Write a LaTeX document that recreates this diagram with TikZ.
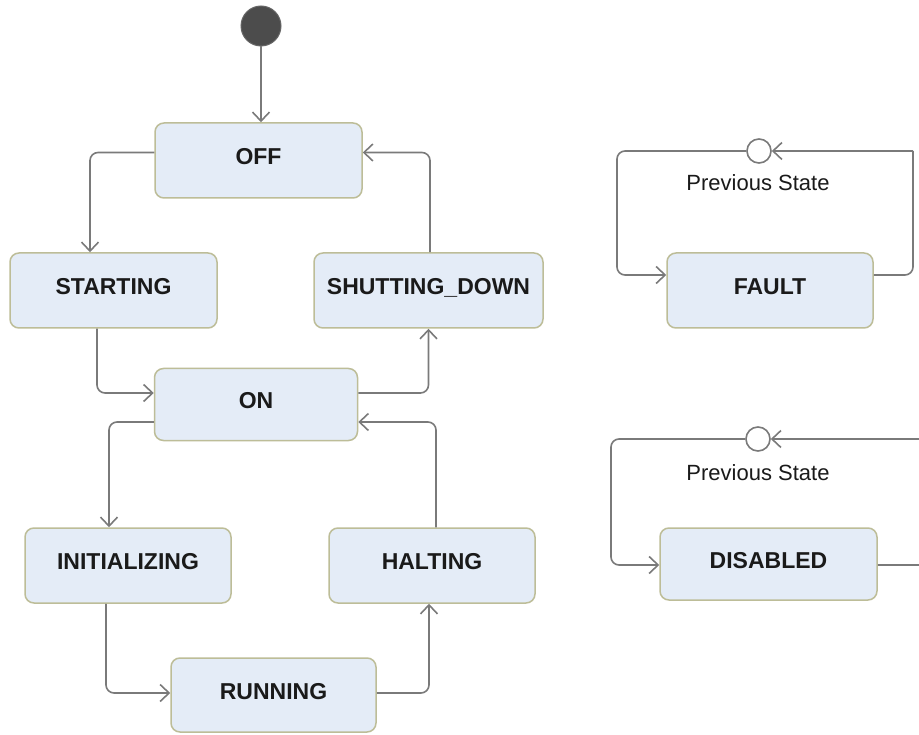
\documentclass[tikz,border=0pt]{standalone}
\usepackage{fontspec}
\setmainfont{Liberation Sans}
\usetikzlibrary{arrows.meta}
\definecolor{boxfill}{HTML}{E4ECF7}
\definecolor{boxline}{HTML}{BDBD98}
\definecolor{conn}{HTML}{7A7A7A}
\definecolor{txt}{HTML}{1A1A1A}
\tikzset{
  state/.style={draw=boxline, fill=boxfill, line width=1.5pt, rounded corners=9pt,
    minimum height=75pt, inner sep=0pt,
    text height=16pt, text depth=8pt, font=\fontsize{23}{25}\selectfont\bfseries, text=txt},
  arr/.style={draw=conn, line width=1.6pt, rounded corners=8pt,
    -{Straight Barb[length=9pt,width=17pt,line width=1.6pt]}},
  ln/.style={draw=conn, line width=1.6pt, rounded corners=8pt},
  choice/.style={circle, draw=conn, fill=white, line width=1.6pt, minimum size=24pt, inner sep=0pt},
  lbl/.style={font=\fontsize{22}{24}\selectfont, text=txt}
}
\begin{document}
\begin{tikzpicture}[x=1pt,y=-1pt]
\useasboundingbox (0,0) rectangle (919,735);
\clip (0,0) rectangle (919,735);
\fill[white] (0,0) rectangle (919,735);
% states
\node[state, minimum width=207pt] (OFF) at (258.5,160.5) {OFF};
\node[state, minimum width=207pt] (ST) at (113.5,290.5) {STARTING};
\node[state, minimum width=229pt] (SD) at (428.5,290.5) {SHUTTING\_DOWN};
\node[state, minimum width=203pt, minimum height=72pt] (ON) at (256,404.5) {ON};
\node[state, minimum width=206pt] (INI) at (128,565.5) {INITIALIZING};
\node[state, minimum width=206pt] (HLT) at (432,565.5) {HALTING};
\node[state, minimum width=205pt, minimum height=74pt] (RUN) at (273.5,695) {RUNNING};
\node[state, minimum width=206pt] (FLT) at (770,290.5) {FAULT};
\node[state, minimum width=217pt, minimum height=72pt] (DIS) at (768.5,564) {DISABLED};
% initial
\node[circle, fill=black!70, draw=black!60, line width=1pt, minimum size=40pt, inner sep=0pt] (init) at (261,26) {};
\draw[arr] (init.south) -- (init.south |- OFF.north);
% main flow
\draw[arr] ([yshift=8pt]OFF.west) -| ([xshift=-23.5pt]ST.north);
\draw[arr] ([xshift=1.5pt]SD.north) |- ([yshift=8pt]OFF.east);
\draw[arr] ([xshift=-16.5pt]ST.south) |- ([yshift=11.5pt]ON.west);
\draw[arr] ([yshift=11.5pt]ON.east) -| (SD.south);
\draw[arr] ([yshift=-17.5pt]ON.west) -| ([xshift=-19pt]INI.north);
\draw[arr] ([xshift=4pt]HLT.north) |- ([yshift=-17.5pt]ON.east);
\draw[arr] ([xshift=-22pt]INI.south) |- ([yshift=2pt]RUN.west);
\draw[arr] ([yshift=2pt]RUN.east) -| ([xshift=-3pt]HLT.south);
% fault loop
\node[choice] (h1) at (759,151) {};
\node[lbl] (l1) at (758,183) {Previous State};
\coordinate (f1) at (913,151);
\coordinate (f2) at (617,151);
\draw[ln] ([yshift=15.5pt]FLT.east) -| (f1);
\draw[arr] (f1) -- (h1.east);
\draw[arr] (h1.west) -- (f2) |- ([yshift=15.5pt]FLT.west);
% disabled loop
\node[choice] (h2) at (758,439) {};
\node[lbl] (l2) at (758,473) {Previous State};
\coordinate (d1) at (935,439);
\coordinate (d2) at (611,439);
\draw[ln] ([yshift=-1pt]DIS.east) -| (d1);
\draw[arr] (d1) -- (h2.east);
\draw[arr] (h2.west) -- (d2) |- ([yshift=-1pt]DIS.west);
\end{tikzpicture}
\end{document}
